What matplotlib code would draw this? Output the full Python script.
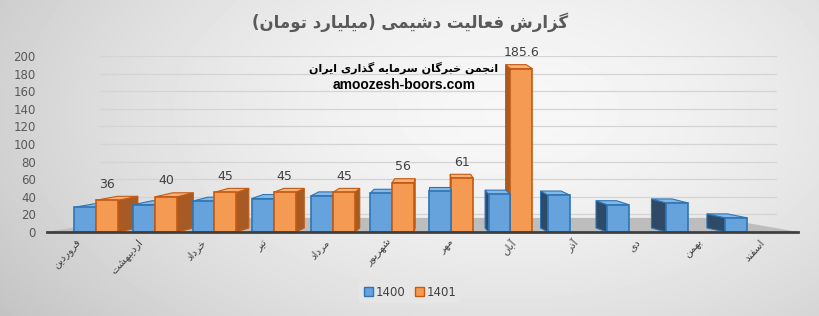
import numpy as np
import matplotlib
matplotlib.use("Agg")
import matplotlib.pyplot as plt
from matplotlib.patches import Polygon, Rectangle

months = ["فروردین", "اردیبهشت", "خرداد", "تیر", "مرداد", "شهریور",
          "مهر", "آبان", "آذر", "دی", "بهمن", "اسفند"]
sales_1400 = [28, 31, 35, 38, 41, 44, 46, 43, 42, 31, 33, 16]
sales_1401 = [36, 40, 45, 45, 45, 56, 61, 185.6]
series_names = ["1400", "1401"]
y_ticks = [0, 20, 40, 60, 80, 100, 120, 140, 160, 180, 200]
title_text = "گزارش فعالیت دشیمی (میلیارد تومان)"
watermark = ["انجمن خبرگان سرمایه گذاری ایران", "amoozesh-boors.com"]

# matplotlib has no arabic shaping, so pick presentation forms by hand
# (isolated, final, initial, medial)
FORMS = {
    "ا": ("\uFE8D", "\uFE8E", None, None),
    "آ": ("\uFE81", "\uFE82", None, None),
    "ب": ("\uFE8F", "\uFE90", "\uFE91", "\uFE92"),
    "پ": ("\uFB56", "\uFB57", "\uFB58", "\uFB59"),
    "ت": ("\uFE95", "\uFE96", "\uFE97", "\uFE98"),
    "ج": ("\uFE9D", "\uFE9E", "\uFE9F", "\uFEA0"),
    "خ": ("\uFEA5", "\uFEA6", "\uFEA7", "\uFEA8"),
    "د": ("\uFEA9", "\uFEAA", None, None),
    "ذ": ("\uFEAB", "\uFEAC", None, None),
    "ر": ("\uFEAD", "\uFEAE", None, None),
    "ز": ("\uFEAF", "\uFEB0", None, None),
    "س": ("\uFEB1", "\uFEB2", "\uFEB3", "\uFEB4"),
    "ش": ("\uFEB5", "\uFEB6", "\uFEB7", "\uFEB8"),
    "ع": ("\uFEC9", "\uFECA", "\uFECB", "\uFECC"),
    "ف": ("\uFED1", "\uFED2", "\uFED3", "\uFED4"),
    "ک": ("\uFB8E", "\uFB8F", "\uFB90", "\uFB91"),
    "گ": ("\uFB92", "\uFB93", "\uFB94", "\uFB95"),
    "ل": ("\uFEDD", "\uFEDE", "\uFEDF", "\uFEE0"),
    "م": ("\uFEE1", "\uFEE2", "\uFEE3", "\uFEE4"),
    "ن": ("\uFEE5", "\uFEE6", "\uFEE7", "\uFEE8"),
    "و": ("\uFEED", "\uFEEE", None, None),
    "ه": ("\uFEE9", "\uFEEA", "\uFEEB", "\uFEEC"),
    "ی": ("\uFBFC", "\uFBFD", "\uFBFE", "\uFBFF"),
}


def fa(text):
    out = []
    for i, ch in enumerate(text):
        if ch not in FORMS:
            out.append(ch)
            continue
        prev = text[i - 1] if i > 0 else None
        nxt = text[i + 1] if i + 1 < len(text) else None
        jp = prev in FORMS and FORMS[prev][2] is not None
        jn = FORMS[ch][2] is not None and nxt in FORMS
        if jp and jn:
            out.append(FORMS[ch][3])
        elif jp:
            out.append(FORMS[ch][1])
        elif jn:
            out.append(FORMS[ch][2])
        else:
            out.append(FORMS[ch][0])
    mirror = {"(": ")", ")": "("}
    return "".join(mirror.get(c, c) for c in reversed(out))


fig = plt.figure(figsize=(8.2, 3.16), dpi=100)

# grey radial background
bg = fig.add_axes([0, 0, 1, 1], zorder=-10)
gx, gy = np.meshgrid(np.linspace(0, 1, 410), np.linspace(0, 1, 158))
r = np.sqrt(((gx - 0.62) / 0.75) ** 2 + ((gy - 0.35) / 1.1) ** 2)
bg.imshow(np.clip(0.97 - 0.2 * r ** 1.6, 0.76, 0.97), cmap="gray", vmin=0, vmax=1,
          aspect="auto", extent=[0, 1, 0, 1])
bg.axis("off")

ax = fig.add_axes([0.0573, 0.266, 0.916, 0.557])
ax.set_facecolor("none")
xmin, xmax = -0.83, 11.86
ax.set_xlim(xmin, xmax)
ax.set_ylim(0, 200)

for t in y_ticks[1:]:
    ax.axhline(t, xmin=0.07, xmax=0.97, color="#d4d4d4", lw=0.9, zorder=0)

c = 5.7       # vanishing x
k = 0.063     # depth spread
dy = 4.5      # depth rise in data units


def ddx(x):
    return -(x - c) * k


# floor
floor = Polygon([(xmin, 0), (xmax, 0), (xmax + 3.5 * ddx(xmax), 16),
                 (xmin + 3.5 * ddx(xmin), 16)], closed=True,
                facecolor="#bdbdbd", edgecolor="none", zorder=1)
ax.add_patch(floor)

styles = [
    dict(front="#66a3dc", top="#86b8e6", side="#2f4a66", edge="#2e75b6"),
    dict(front="#f59a52", top="#f7b07a", side="#a75a24", edge="#c55a11"),
]
w = 0.37
bars = []
for s, vals in enumerate([sales_1400, sales_1401]):
    for i, v in enumerate(vals):
        xl = i - w if s == 0 else i
        bars.append((xl, xl + w, v, styles[s]))

# far from the centre first, so nearer bars cover them
bars.sort(key=lambda b: -abs((b[0] + b[1]) / 2 - c))
for n, (xl, xr, h, st) in enumerate(bars):
    z = 2 + n * 0.01
    mid = (xl + xr) / 2
    if ddx(mid) > 0:
        xe = xr
    else:
        xe = xl
    side = [(xe, 0), (xe, h), (xe + ddx(xe), h + dy), (xe + ddx(xe), dy)]
    ax.add_patch(Polygon(side, closed=True, facecolor=st["side"], edgecolor=st["edge"],
                         lw=0.8, zorder=z))
    top = [(xl, h), (xr, h), (xr + ddx(xr), h + dy), (xl + ddx(xl), h + dy)]
    ax.add_patch(Polygon(top, closed=True, facecolor=st["top"], edgecolor=st["edge"],
                         lw=0.8, zorder=z))
    ax.add_patch(Rectangle((xl, 0), xr - xl, h, facecolor=st["front"], edgecolor=st["edge"],
                           lw=1.2, zorder=z + 0.001))

for i, v in enumerate(sales_1401):
    ax.annotate(f"{v:g}", (i + w / 2, v), xytext=(0, 7), textcoords="offset points",
                ha="center", va="bottom", fontsize=9, color="#404040", zorder=10)

ax.set_yticks(y_ticks)
ax.tick_params(axis="y", length=0, pad=8, labelsize=8.5, labelcolor="#595959")
ax.set_xticks([])
for sp in ["left", "right", "top"]:
    ax.spines[sp].set_visible(False)
ax.spines["bottom"].set_color("#404040")
ax.spines["bottom"].set_linewidth(2)

# month names, spread like the front edge of the floor
for i, m in enumerate(months):
    xc = i + (i - c) * 0.05
    ax.text(xc, -10, fa(m), rotation=48, rotation_mode="anchor", ha="right", va="center",
            fontsize=7.5, color="#404040", family="DejaVu Sans")

fig.text(0.5, 1 - 22 / 316, fa(title_text), ha="center", va="center", fontsize=12,
         fontweight="bold", color="#595959", family="DejaVu Sans")
fig.text(404 / 820, 1 - 68 / 316, fa(watermark[0]), ha="center", va="center", fontsize=8,
         fontweight="bold", color="black", family="DejaVu Sans")
fig.text(404 / 820, 1 - 85 / 316, watermark[1], ha="center", va="center", fontsize=10,
         fontweight="bold", color="black", family="Liberation Sans")

handles = [Rectangle((0, 0), 1, 1, facecolor=st["front"], edgecolor=st["edge"]) for st in styles]
fig.legend(handles, series_names, loc="center", bbox_to_anchor=(410 / 820, 1 - 292 / 316),
           ncol=2, fontsize=8.5, frameon=True, facecolor="#e6e6e6", edgecolor="none",
           handlelength=0.8, handleheight=0.8, handletextpad=0.2, columnspacing=0.8,
           labelcolor="#404040", framealpha=1)

fig.savefig("out.png", dpi=100)
